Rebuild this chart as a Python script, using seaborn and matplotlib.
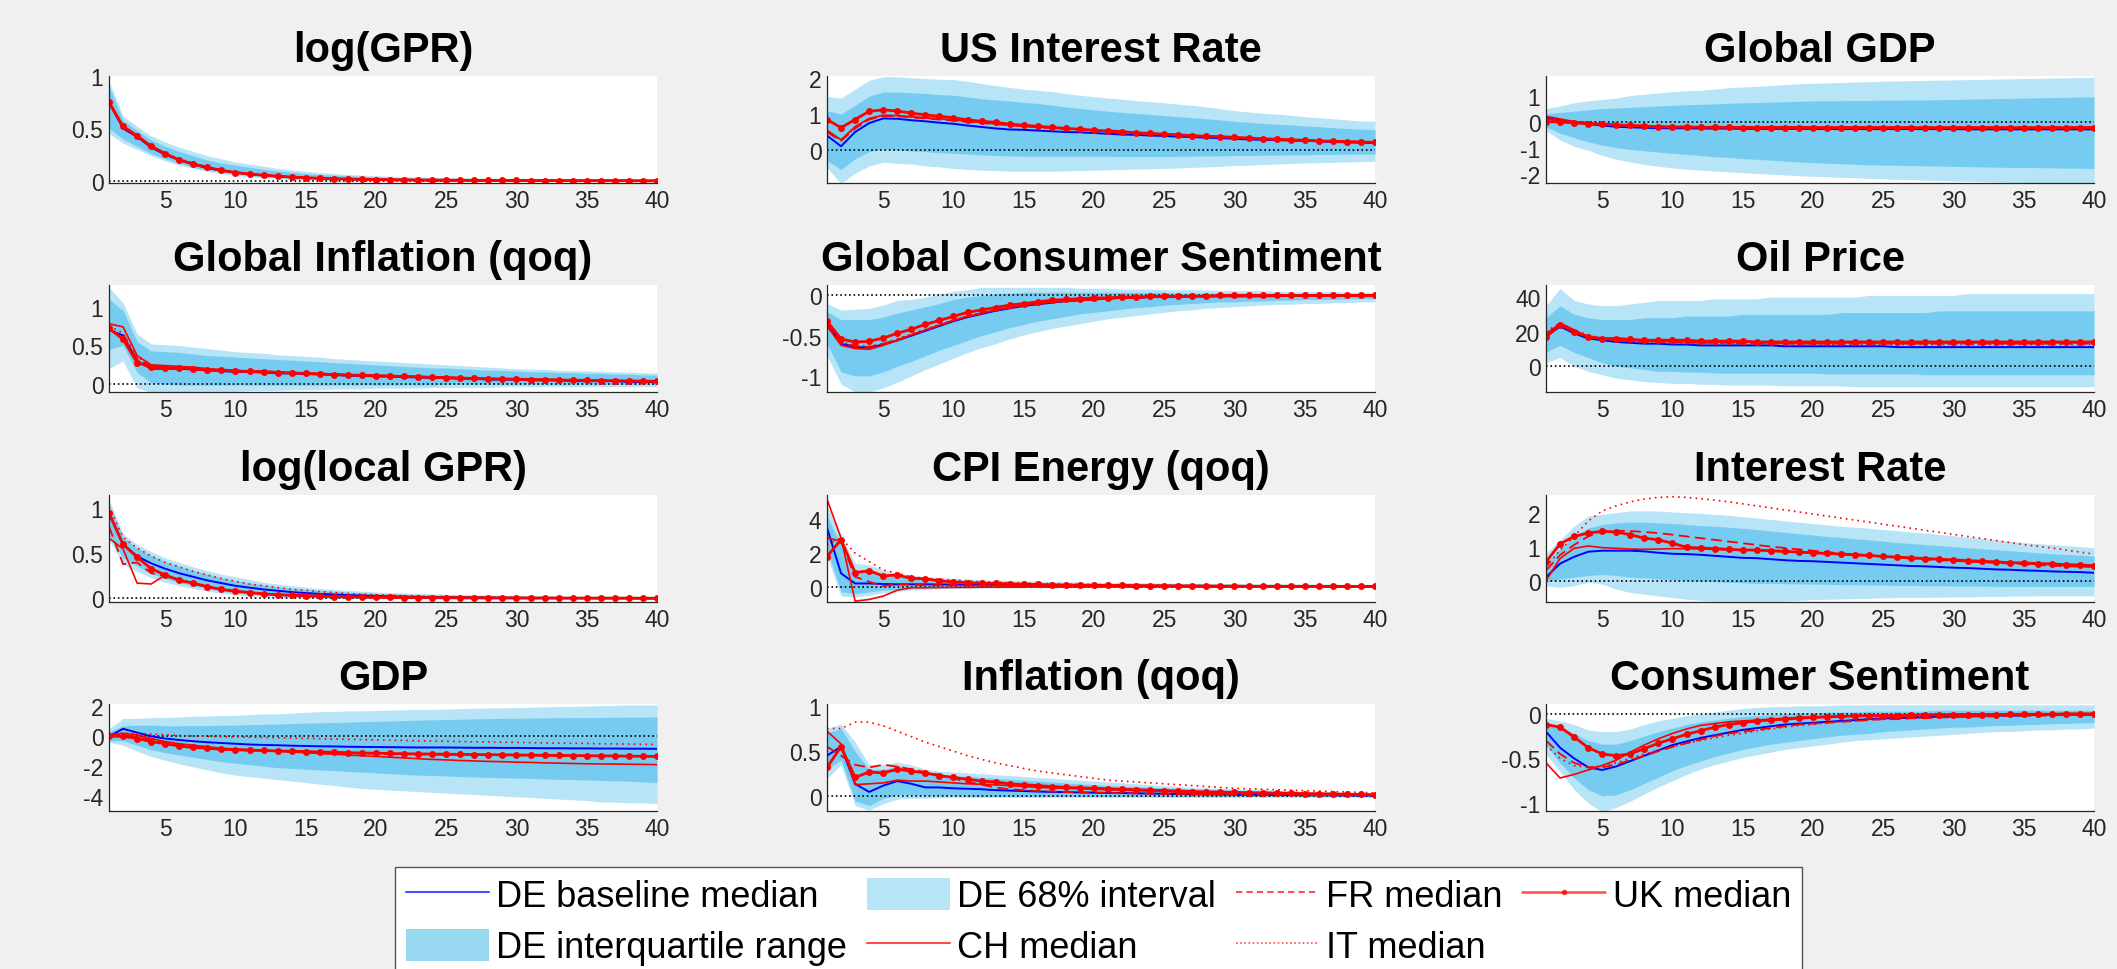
import matplotlib
matplotlib.use("Agg")
import matplotlib.pyplot as plt
import seaborn as sns
from matplotlib.lines import Line2D
from matplotlib.patches import Patch
from matplotlib.ticker import FuncFormatter

# horizon (quarters)
horizon = list(range(1, 41))

# ---- log(GPR)
gpr_lo68 = [0.45, 0.36, 0.30, 0.24, 0.19, 0.15, 0.12, 0.09, 0.07, 0.05,
            0.04, 0.03, 0.02, 0.015, 0.01, 0.006, 0.003, 0.001, 0.0, -0.001,
            -0.002, -0.002, -0.003, -0.003, -0.003, -0.003, -0.003, -0.003, -0.003, -0.003,
            -0.003, -0.003, -0.003, -0.003, -0.003, -0.003, -0.003, -0.003, -0.003, -0.003]
gpr_lo50 = [0.50, 0.40, 0.33, 0.26, 0.21, 0.17, 0.13, 0.105, 0.085, 0.065,
            0.05, 0.04, 0.03, 0.023, 0.017, 0.013, 0.009, 0.007, 0.005, 0.004,
            0.003, 0.002, 0.001, 0.001, 0.0, 0.0, 0.0, 0.0, 0.0, 0.0,
            0.0, 0.0, 0.0, 0.0, 0.0, 0.0, 0.0, 0.0, 0.0, 0.0]
gpr_hi50 = [0.90, 0.58, 0.48, 0.39, 0.33, 0.28, 0.24, 0.20, 0.17, 0.15,
            0.13, 0.11, 0.095, 0.082, 0.07, 0.062, 0.054, 0.048, 0.042, 0.038,
            0.034, 0.031, 0.028, 0.026, 0.024, 0.022, 0.021, 0.020, 0.019, 0.018,
            0.017, 0.016, 0.016, 0.015, 0.015, 0.014, 0.014, 0.014, 0.013, 0.013]
gpr_hi68 = [0.95, 0.62, 0.52, 0.43, 0.37, 0.32, 0.28, 0.24, 0.21, 0.18,
            0.16, 0.14, 0.12, 0.105, 0.09, 0.08, 0.07, 0.062, 0.055, 0.05,
            0.045, 0.04, 0.037, 0.034, 0.031, 0.029, 0.027, 0.025, 0.024, 0.023,
            0.022, 0.021, 0.02, 0.02, 0.019, 0.019, 0.018, 0.018, 0.018, 0.018]
gpr_de = [0.75, 0.50, 0.42, 0.32, 0.25, 0.20, 0.16, 0.12, 0.10, 0.08,
          0.064, 0.052, 0.043, 0.035, 0.029, 0.024, 0.02, 0.017, 0.014, 0.012,
          0.01, 0.009, 0.008, 0.007, 0.006, 0.005, 0.005, 0.004, 0.004, 0.003,
          0.003, 0.003, 0.002, 0.002, 0.002, 0.002, 0.002, 0.001, 0.001, 0.001]
gpr_ch = [0.74, 0.51, 0.42, 0.33, 0.26, 0.20, 0.16, 0.13, 0.10, 0.08,
          0.065, 0.053, 0.044, 0.036, 0.03, 0.025, 0.021, 0.017, 0.015, 0.012,
          0.011, 0.009, 0.008, 0.007, 0.006, 0.005, 0.005, 0.004, 0.004, 0.003,
          0.003, 0.003, 0.002, 0.002, 0.002, 0.002, 0.002, 0.001, 0.001, 0.001]
gpr_fr = [0.75, 0.51, 0.43, 0.33, 0.26, 0.20, 0.16, 0.13, 0.10, 0.08,
          0.065, 0.053, 0.044, 0.036, 0.03, 0.025, 0.021, 0.017, 0.015, 0.012,
          0.011, 0.009, 0.008, 0.007, 0.006, 0.005, 0.005, 0.004, 0.004, 0.003,
          0.003, 0.003, 0.002, 0.002, 0.002, 0.002, 0.002, 0.001, 0.001, 0.001]
gpr_it = [0.76, 0.52, 0.43, 0.33, 0.26, 0.21, 0.17, 0.13, 0.10, 0.08,
          0.066, 0.054, 0.045, 0.037, 0.03, 0.025, 0.021, 0.018, 0.015, 0.013,
          0.011, 0.01, 0.008, 0.007, 0.006, 0.006, 0.005, 0.004, 0.004, 0.003,
          0.003, 0.003, 0.003, 0.002, 0.002, 0.002, 0.002, 0.001, 0.001, 0.001]
gpr_uk = [0.75, 0.52, 0.43, 0.33, 0.26, 0.20, 0.16, 0.13, 0.10, 0.08,
          0.065, 0.055, 0.045, 0.037, 0.03, 0.025, 0.021, 0.018, 0.015, 0.013,
          0.011, 0.01, 0.009, 0.008, 0.007, 0.006, 0.005, 0.005, 0.004, 0.004,
          0.003, 0.003, 0.003, 0.002, 0.002, 0.002, 0.002, 0.002, 0.001, 0.001]

# ---- US Interest Rate
usir_lo68 = [-0.50, -0.95, -0.65, -0.45, -0.35, -0.38, -0.40, -0.45, -0.48, -0.52,
             -0.55, -0.57, -0.58, -0.60, -0.60, -0.60, -0.60, -0.59, -0.58, -0.57,
             -0.56, -0.55, -0.54, -0.53, -0.52, -0.51, -0.49, -0.48, -0.46, -0.44,
             -0.43, -0.41, -0.40, -0.38, -0.37, -0.36, -0.35, -0.34, -0.33, -0.32]
usir_lo50 = [-0.30, -0.55, -0.25, -0.05, 0.02, 0.00, -0.03, -0.05, -0.08, -0.10,
             -0.12, -0.14, -0.16, -0.17, -0.18, -0.18, -0.18, -0.18, -0.18, -0.18,
             -0.18, -0.19, -0.19, -0.19, -0.19, -0.18, -0.18, -0.17, -0.17, -0.16,
             -0.16, -0.15, -0.15, -0.14, -0.14, -0.13, -0.13, -0.12, -0.12, -0.12]
usir_hi50 = [1.10, 1.00, 1.25, 1.50, 1.62, 1.62, 1.60, 1.58, 1.55, 1.53,
             1.48, 1.43, 1.40, 1.37, 1.33, 1.30, 1.25, 1.20, 1.16, 1.12,
             1.08, 1.05, 1.02, 0.99, 0.96, 0.93, 0.90, 0.87, 0.84, 0.80,
             0.77, 0.74, 0.72, 0.70, 0.67, 0.65, 0.62, 0.60, 0.58, 0.56]
usir_hi68 = [1.50, 1.45, 1.70, 1.95, 2.05, 2.05, 2.02, 2.00, 1.98, 1.97,
             1.92, 1.86, 1.80, 1.75, 1.70, 1.67, 1.63, 1.58, 1.53, 1.49,
             1.45, 1.42, 1.38, 1.35, 1.32, 1.28, 1.25, 1.20, 1.15, 1.10,
             1.06, 1.03, 1.00, 0.97, 0.93, 0.90, 0.87, 0.84, 0.81, 0.80]
usir_de = [0.40, 0.10, 0.50, 0.75, 0.88, 0.87, 0.83, 0.80, 0.76, 0.73,
           0.68, 0.64, 0.60, 0.57, 0.56, 0.54, 0.52, 0.50, 0.49, 0.47,
           0.45, 0.43, 0.42, 0.40, 0.39, 0.37, 0.36, 0.34, 0.33, 0.31,
           0.29, 0.28, 0.27, 0.26, 0.25, 0.24, 0.22, 0.21, 0.20, 0.19]
usir_ch = [0.55, 0.28, 0.65, 0.88, 0.97, 0.96, 0.93, 0.90, 0.87, 0.84,
           0.80, 0.77, 0.73, 0.70, 0.67, 0.64, 0.62, 0.59, 0.57, 0.55,
           0.52, 0.50, 0.48, 0.46, 0.44, 0.42, 0.40, 0.38, 0.36, 0.35,
           0.33, 0.31, 0.30, 0.28, 0.27, 0.25, 0.24, 0.23, 0.22, 0.21]
usir_fr = [0.50, 0.25, 0.60, 0.85, 0.95, 0.94, 0.91, 0.88, 0.85, 0.82,
           0.78, 0.75, 0.72, 0.69, 0.66, 0.63, 0.61, 0.58, 0.56, 0.54,
           0.51, 0.49, 0.47, 0.45, 0.43, 0.41, 0.39, 0.37, 0.36, 0.34,
           0.32, 0.31, 0.29, 0.28, 0.27, 0.25, 0.24, 0.23, 0.22, 0.21]
usir_it = [0.52, 0.27, 0.62, 0.86, 0.96, 0.95, 0.92, 0.89, 0.86, 0.83,
           0.79, 0.76, 0.73, 0.70, 0.67, 0.64, 0.61, 0.59, 0.57, 0.54,
           0.52, 0.50, 0.48, 0.46, 0.44, 0.42, 0.40, 0.38, 0.36, 0.34,
           0.33, 0.31, 0.30, 0.28, 0.27, 0.26, 0.24, 0.23, 0.22, 0.21]
usir_uk = [0.85, 0.62, 0.85, 1.08, 1.12, 1.09, 1.03, 0.98, 0.94, 0.90,
           0.84, 0.80, 0.77, 0.72, 0.69, 0.66, 0.63, 0.60, 0.58, 0.55,
           0.53, 0.51, 0.48, 0.46, 0.44, 0.42, 0.40, 0.38, 0.37, 0.35,
           0.33, 0.31, 0.30, 0.28, 0.27, 0.25, 0.24, 0.23, 0.22, 0.21]

# ---- Global GDP
ggdp_lo68 = [-0.35, -0.70, -0.95, -1.10, -1.30, -1.45, -1.55, -1.65, -1.72, -1.78,
             -1.83, -1.87, -1.90, -1.93, -1.96, -1.99, -2.02, -2.05, -2.08, -2.10,
             -2.12, -2.14, -2.16, -2.18, -2.20, -2.22, -2.23, -2.25, -2.26, -2.28,
             -2.29, -2.30, -2.32, -2.33, -2.34, -2.35, -2.36, -2.37, -2.38, -2.40]
ggdp_lo50 = [-0.20, -0.45, -0.62, -0.78, -0.90, -1.00, -1.07, -1.12, -1.17, -1.22,
             -1.26, -1.30, -1.35, -1.38, -1.42, -1.45, -1.48, -1.52, -1.55, -1.58,
             -1.60, -1.62, -1.64, -1.66, -1.67, -1.68, -1.69, -1.70, -1.71, -1.72,
             -1.73, -1.74, -1.75, -1.76, -1.76, -1.77, -1.78, -1.79, -1.79, -1.80]
ggdp_hi50 = [0.30, 0.35, 0.40, 0.45, 0.50, 0.52, 0.55, 0.57, 0.60, 0.62,
             0.65, 0.66, 0.68, 0.70, 0.72, 0.73, 0.75, 0.76, 0.78, 0.79,
             0.80, 0.80, 0.81, 0.81, 0.82, 0.82, 0.83, 0.83, 0.84, 0.85,
             0.86, 0.87, 0.88, 0.89, 0.90, 0.91, 0.92, 0.93, 0.94, 0.95]
ggdp_hi68 = [0.50, 0.60, 0.72, 0.80, 0.85, 0.90, 1.00, 1.05, 1.10, 1.15,
             1.18, 1.20, 1.25, 1.30, 1.33, 1.35, 1.38, 1.42, 1.45, 1.47,
             1.48, 1.50, 1.52, 1.53, 1.55, 1.56, 1.57, 1.58, 1.59, 1.60,
             1.61, 1.62, 1.63, 1.64, 1.65, 1.66, 1.67, 1.68, 1.69, 1.70]
ggdp_de = [0.15, 0.05, -0.03, -0.10, -0.15, -0.20, -0.22, -0.24, -0.25, -0.26,
           -0.26, -0.27, -0.27, -0.27, -0.28, -0.28, -0.28, -0.28, -0.28, -0.28,
           -0.29, -0.29, -0.29, -0.29, -0.29, -0.29, -0.29, -0.29, -0.29, -0.29,
           -0.30, -0.30, -0.30, -0.30, -0.30, -0.30, -0.30, -0.30, -0.30, -0.30]
ggdp_ch = [0.20, 0.10, 0.00, -0.05, -0.10, -0.14, -0.16, -0.18, -0.20, -0.20,
           -0.21, -0.21, -0.21, -0.22, -0.22, -0.22, -0.22, -0.22, -0.22, -0.22,
           -0.22, -0.22, -0.22, -0.22, -0.23, -0.23, -0.23, -0.23, -0.23, -0.23,
           -0.23, -0.23, -0.23, -0.23, -0.23, -0.23, -0.23, -0.23, -0.23, -0.23]
ggdp_fr = [0.10, 0.05, 0.00, -0.05, -0.10, -0.13, -0.16, -0.18, -0.19, -0.20,
           -0.20, -0.21, -0.21, -0.21, -0.21, -0.21, -0.21, -0.22, -0.22, -0.22,
           -0.22, -0.22, -0.22, -0.22, -0.22, -0.22, -0.22, -0.22, -0.22, -0.22,
           -0.22, -0.22, -0.22, -0.22, -0.22, -0.22, -0.22, -0.22, -0.22, -0.22]
ggdp_it = [0.05, 0.02, -0.02, -0.06, -0.09, -0.12, -0.14, -0.16, -0.18, -0.19,
           -0.19, -0.20, -0.20, -0.20, -0.20, -0.20, -0.20, -0.20, -0.21, -0.21,
           -0.21, -0.21, -0.21, -0.21, -0.21, -0.21, -0.21, -0.21, -0.21, -0.21,
           -0.21, -0.21, -0.21, -0.21, -0.21, -0.21, -0.21, -0.21, -0.21, -0.21]
ggdp_uk = [0.00, -0.02, -0.05, -0.08, -0.10, -0.13, -0.15, -0.17, -0.20, -0.21,
           -0.21, -0.22, -0.22, -0.22, -0.23, -0.23, -0.23, -0.23, -0.23, -0.23,
           -0.24, -0.24, -0.24, -0.24, -0.24, -0.24, -0.24, -0.24, -0.24, -0.24,
           -0.24, -0.24, -0.24, -0.24, -0.24, -0.24, -0.24, -0.24, -0.24, -0.24]

# ---- Global Inflation (qoq)
ginf_lo68 = [0.20, 0.30, -0.05, -0.10, -0.10, -0.10, -0.09, -0.09, -0.09, -0.09,
             -0.08, -0.08, -0.08, -0.07, -0.07, -0.07, -0.06, -0.06, -0.06, -0.05,
             -0.05, -0.05, -0.05, -0.04, -0.04, -0.04, -0.04, -0.04, -0.03, -0.03,
             -0.03, -0.03, -0.03, -0.03, -0.03, -0.03, -0.03, -0.03, -0.03, -0.03]
ginf_lo50 = [0.45, 0.50, 0.15, 0.02, 0.00, -0.01, -0.01, -0.01, -0.01, -0.01,
             -0.01, -0.01, -0.01, -0.01, -0.01, -0.01, -0.01, -0.01, -0.01, -0.01,
             -0.01, -0.01, -0.01, -0.01, 0.00, 0.00, 0.00, 0.00, 0.00, 0.00,
             0.00, 0.00, 0.00, 0.00, 0.00, 0.00, 0.00, 0.00, 0.00, 0.00]
ginf_hi50 = [1.10, 0.95, 0.55, 0.43, 0.42, 0.41, 0.39, 0.37, 0.36, 0.35,
             0.34, 0.33, 0.32, 0.31, 0.30, 0.29, 0.28, 0.27, 0.26, 0.25,
             0.24, 0.23, 0.22, 0.21, 0.21, 0.20, 0.19, 0.18, 0.18, 0.17,
             0.16, 0.16, 0.15, 0.15, 0.14, 0.14, 0.13, 0.13, 0.12, 0.12]
ginf_hi68 = [1.25, 1.05, 0.65, 0.52, 0.51, 0.50, 0.48, 0.46, 0.44, 0.42,
             0.41, 0.40, 0.38, 0.37, 0.36, 0.35, 0.33, 0.32, 0.31, 0.30,
             0.29, 0.28, 0.27, 0.26, 0.25, 0.24, 0.23, 0.22, 0.21, 0.20,
             0.195, 0.19, 0.18, 0.175, 0.17, 0.165, 0.16, 0.155, 0.15, 0.145]
ginf_de = [0.70, 0.63, 0.30, 0.20, 0.20, 0.20, 0.19, 0.18, 0.17, 0.16,
           0.16, 0.15, 0.14, 0.14, 0.13, 0.13, 0.12, 0.11, 0.11, 0.10,
           0.10, 0.09, 0.09, 0.08, 0.08, 0.07, 0.07, 0.06, 0.06, 0.06,
           0.05, 0.05, 0.05, 0.04, 0.04, 0.04, 0.04, 0.03, 0.03, 0.03]
ginf_ch = [0.78, 0.74, 0.37, 0.25, 0.24, 0.23, 0.22, 0.20, 0.19, 0.18,
           0.17, 0.17, 0.16, 0.15, 0.14, 0.14, 0.13, 0.12, 0.12, 0.11,
           0.11, 0.10, 0.10, 0.09, 0.09, 0.08, 0.08, 0.07, 0.07, 0.06,
           0.06, 0.06, 0.05, 0.05, 0.05, 0.04, 0.04, 0.04, 0.04, 0.03]
ginf_fr = [0.70, 0.62, 0.33, 0.23, 0.22, 0.22, 0.21, 0.19, 0.18, 0.17,
           0.17, 0.16, 0.15, 0.15, 0.14, 0.13, 0.13, 0.12, 0.12, 0.11,
           0.11, 0.10, 0.10, 0.09, 0.09, 0.08, 0.08, 0.07, 0.07, 0.07,
           0.06, 0.06, 0.06, 0.05, 0.05, 0.05, 0.05, 0.04, 0.04, 0.04]
ginf_it = [0.75, 0.66, 0.35, 0.24, 0.23, 0.22, 0.21, 0.20, 0.18, 0.17,
           0.17, 0.16, 0.16, 0.15, 0.14, 0.14, 0.13, 0.12, 0.12, 0.11,
           0.11, 0.10, 0.10, 0.09, 0.09, 0.08, 0.08, 0.08, 0.07, 0.07,
           0.06, 0.06, 0.06, 0.05, 0.05, 0.05, 0.05, 0.04, 0.04, 0.04]
ginf_uk = [0.72, 0.58, 0.28, 0.22, 0.21, 0.21, 0.20, 0.18, 0.18, 0.17,
           0.165, 0.16, 0.15, 0.145, 0.14, 0.13, 0.125, 0.12, 0.115, 0.11,
           0.105, 0.10, 0.095, 0.09, 0.085, 0.08, 0.075, 0.07, 0.068, 0.065,
           0.06, 0.058, 0.055, 0.052, 0.05, 0.048, 0.045, 0.043, 0.04, 0.038]

# ---- Global Consumer Sentiment
gcs_lo68 = [-0.75, -1.10, -1.20, -1.20, -1.15, -1.08, -1.00, -0.92, -0.85, -0.78,
            -0.71, -0.65, -0.60, -0.54, -0.49, -0.45, -0.41, -0.38, -0.35, -0.32,
            -0.29, -0.27, -0.25, -0.23, -0.21, -0.19, -0.18, -0.16, -0.15, -0.14,
            -0.13, -0.12, -0.11, -0.11, -0.10, -0.10, -0.09, -0.09, -0.08, -0.08]
gcs_lo50 = [-0.60, -0.95, -1.00, -1.00, -0.95, -0.88, -0.82, -0.75, -0.68, -0.62,
            -0.56, -0.50, -0.45, -0.40, -0.36, -0.32, -0.29, -0.26, -0.23, -0.21,
            -0.19, -0.17, -0.15, -0.14, -0.12, -0.11, -0.10, -0.09, -0.08, -0.08,
            -0.07, -0.07, -0.06, -0.06, -0.05, -0.05, -0.05, -0.04, -0.04, -0.04]
gcs_hi50 = [-0.20, -0.30, -0.30, -0.30, -0.27, -0.22, -0.18, -0.14, -0.10, -0.05,
            -0.02, 0.00, 0.02, 0.03, 0.04, 0.04, 0.04, 0.04, 0.04, 0.04,
            0.04, 0.04, 0.04, 0.04, 0.04, 0.03, 0.03, 0.03, 0.03, 0.03,
            0.03, 0.03, 0.03, 0.02, 0.02, 0.02, 0.02, 0.02, 0.02, 0.02]
gcs_hi68 = [-0.10, -0.18, -0.17, -0.16, -0.12, -0.06, -0.05, -0.02, 0.02, 0.05,
            0.07, 0.10, 0.10, 0.10, 0.10, 0.10, 0.10, 0.10, 0.09, 0.09,
            0.09, 0.08, 0.08, 0.08, 0.07, 0.07, 0.07, 0.07, 0.06, 0.06,
            0.06, 0.06, 0.05, 0.05, 0.05, 0.05, 0.05, 0.04, 0.04, 0.04]
gcs_de = [-0.35, -0.60, -0.64, -0.65, -0.61, -0.56, -0.50, -0.44, -0.38, -0.32,
          -0.27, -0.23, -0.19, -0.16, -0.13, -0.11, -0.09, -0.07, -0.06, -0.05,
          -0.04, -0.03, -0.03, -0.02, -0.02, -0.02, -0.01, -0.01, -0.01, -0.01,
          -0.01, -0.01, -0.01, 0.00, 0.00, 0.00, 0.00, 0.00, 0.00, 0.00]
gcs_ch = [-0.38, -0.62, -0.66, -0.67, -0.62, -0.56, -0.49, -0.43, -0.37, -0.31,
          -0.26, -0.22, -0.18, -0.15, -0.12, -0.10, -0.08, -0.07, -0.06, -0.05,
          -0.04, -0.03, -0.03, -0.02, -0.02, -0.02, -0.01, -0.01, -0.01, -0.01,
          -0.01, -0.01, 0.00, 0.00, 0.00, 0.00, 0.00, 0.00, 0.00, 0.00]
gcs_fr = [-0.34, -0.59, -0.63, -0.64, -0.60, -0.55, -0.49, -0.43, -0.37, -0.31,
          -0.26, -0.22, -0.18, -0.15, -0.12, -0.10, -0.08, -0.07, -0.06, -0.05,
          -0.04, -0.03, -0.03, -0.02, -0.02, -0.02, -0.01, -0.01, -0.01, -0.01,
          -0.01, -0.01, 0.00, 0.00, 0.00, 0.00, 0.00, 0.00, 0.00, 0.00]
gcs_it = [-0.33, -0.58, -0.62, -0.63, -0.60, -0.54, -0.48, -0.42, -0.36, -0.31,
          -0.26, -0.22, -0.18, -0.15, -0.12, -0.10, -0.08, -0.07, -0.06, -0.05,
          -0.04, -0.03, -0.03, -0.02, -0.02, -0.02, -0.01, -0.01, -0.01, -0.01,
          -0.01, -0.01, 0.00, 0.00, 0.00, 0.00, 0.00, 0.00, 0.00, 0.00]
gcs_uk = [-0.32, -0.54, -0.58, -0.57, -0.53, -0.47, -0.42, -0.36, -0.31, -0.26,
          -0.21, -0.18, -0.15, -0.12, -0.10, -0.08, -0.06, -0.05, -0.04, -0.03,
          -0.03, -0.02, -0.02, -0.01, -0.01, -0.01, -0.01, -0.01, 0.00, 0.00,
          0.00, 0.00, 0.00, 0.00, 0.00, 0.00, 0.00, 0.00, 0.00, 0.00]

# ---- Oil Price
oil_lo68 = [2, 5, 0, -3, -5, -7, -8, -9, -9.5, -10,
            -10, -10.5, -10.5, -11, -11, -11, -11, -11.5, -11.5, -11.5,
            -11.5, -11.5, -12, -12, -12, -12, -12, -12, -12, -12,
            -12, -12, -12, -12, -12, -12, -12, -12, -12, -12]
oil_lo50 = [8, 12, 8, 5, 2, 0, -1, -2, -3, -3,
            -3.5, -3.5, -4, -4, -4, -4, -4, -4, -4, -4,
            -4.5, -4.5, -4.5, -4.5, -4.5, -4.5, -4.5, -5, -5, -5,
            -5, -5, -5, -5, -5, -5, -5, -5, -5, -5]
oil_hi50 = [28, 35, 30, 28, 27, 27, 27, 28, 28, 28,
            29, 29, 29, 29, 30, 30, 30, 30, 30, 30,
            30, 31, 31, 31, 31, 31, 31, 31, 32, 32,
            32, 32, 32, 32, 32, 32, 32, 32, 32, 32]
oil_hi68 = [35, 45, 38, 36, 35, 35, 36, 37, 38, 38,
            38, 38, 39, 39, 39, 39, 40, 40, 40, 40,
            40, 40, 40, 41, 41, 41, 41, 41, 41, 41,
            42, 42, 42, 42, 42, 42, 42, 42, 42, 42]
oil_de = [17, 23, 19, 16, 15, 14, 13.5, 13, 13, 12.5,
          12.5, 12, 12, 12, 12, 12, 12, 11.5, 11.5, 11.5,
          11.5, 11.5, 11.5, 11.5, 11.5, 11, 11, 11, 11, 11,
          11, 11, 11, 11, 11, 11, 11, 11, 11, 11]
oil_ch = [18, 25, 21, 17, 16, 15, 15, 14.5, 14.5, 14,
          14, 14, 14, 14, 14, 13.5, 13.5, 13.5, 13.5, 13.5,
          13.5, 13.5, 13.5, 13.5, 13.5, 13.5, 13.5, 13.5, 13.5, 13.5,
          13.5, 13.5, 13.5, 13.5, 13.5, 13.5, 13.5, 13.5, 13.5, 13.5]
oil_fr = [19, 24, 20, 17, 16, 15, 14.5, 14, 14, 14,
          13.5, 13.5, 13.5, 13.5, 13, 13, 13, 13, 13, 13,
          13, 13, 13, 13, 13, 13, 13, 13, 13, 13,
          13, 13, 13, 13, 13, 13, 13, 13, 13, 13]
oil_it = [20, 25, 21, 18, 16, 15, 14.5, 14, 14, 13.5,
          13.5, 13.5, 13, 13, 13, 13, 13, 13, 13, 13,
          12.5, 12.5, 12.5, 12.5, 12.5, 12.5, 12.5, 12.5, 12.5, 12.5,
          12.5, 12.5, 12.5, 12.5, 12.5, 12.5, 12.5, 12.5, 12.5, 12.5]
oil_uk = [17, 24, 20, 17, 16, 16, 15.5, 15, 15, 15,
          15, 14.5, 14.5, 14.5, 14.5, 14, 14, 14, 14, 14,
          14, 14, 14, 14, 14, 14, 14, 14, 14, 14,
          14, 14, 14, 14, 14, 14, 14, 14, 14, 14]

# ---- log(local GPR)
lgpr_lo68 = [0.65, 0.38, 0.30, 0.23, 0.18, 0.14, 0.11, 0.08, 0.06, 0.04,
             0.03, 0.02, 0.012, 0.008, 0.005, 0.003, 0.001, 0.0, -0.001, -0.002,
             -0.002, -0.003, -0.003, -0.003, -0.003, -0.003, -0.003, -0.003, -0.003, -0.003,
             -0.003, -0.003, -0.003, -0.003, -0.003, -0.003, -0.003, -0.003, -0.003, -0.003]
lgpr_lo50 = [0.70, 0.45, 0.36, 0.28, 0.22, 0.18, 0.14, 0.11, 0.08, 0.06,
             0.045, 0.035, 0.025, 0.018, 0.013, 0.01, 0.007, 0.005, 0.004, 0.003,
             0.002, 0.002, 0.001, 0.001, 0.001, 0.0, 0.0, 0.0, 0.0, 0.0,
             0.0, 0.0, 0.0, 0.0, 0.0, 0.0, 0.0, 0.0, 0.0, 0.0]
lgpr_hi50 = [1.05, 0.68, 0.56, 0.48, 0.41, 0.36, 0.31, 0.27, 0.23, 0.20,
             0.17, 0.15, 0.13, 0.115, 0.10, 0.09, 0.08, 0.07, 0.062, 0.055,
             0.05, 0.045, 0.041, 0.038, 0.035, 0.033, 0.031, 0.029, 0.027, 0.026,
             0.025, 0.024, 0.023, 0.022, 0.021, 0.02, 0.02, 0.019, 0.019, 0.018]
lgpr_hi68 = [1.10, 0.72, 0.60, 0.52, 0.45, 0.40, 0.35, 0.31, 0.27, 0.24,
             0.21, 0.18, 0.16, 0.14, 0.125, 0.11, 0.10, 0.09, 0.08, 0.072,
             0.065, 0.06, 0.055, 0.05, 0.047, 0.044, 0.041, 0.039, 0.037, 0.035,
             0.034, 0.033, 0.032, 0.031, 0.03, 0.03, 0.029, 0.029, 0.028, 0.028]
lgpr_de = [0.95, 0.60, 0.47, 0.39, 0.33, 0.28, 0.24, 0.20, 0.17, 0.14,
           0.12, 0.10, 0.085, 0.07, 0.06, 0.05, 0.043, 0.037, 0.032, 0.027,
           0.023, 0.02, 0.017, 0.015, 0.013, 0.011, 0.01, 0.009, 0.008, 0.007,
           0.006, 0.005, 0.005, 0.004, 0.004, 0.003, 0.003, 0.003, 0.002, 0.002]
lgpr_ch = [0.67, 0.55, 0.17, 0.16, 0.26, 0.21, 0.17, 0.13, 0.10, 0.08,
           0.065, 0.053, 0.044, 0.036, 0.03, 0.025, 0.021, 0.017, 0.015, 0.012,
           0.011, 0.009, 0.008, 0.007, 0.006, 0.005, 0.005, 0.004, 0.004, 0.003,
           0.003, 0.003, 0.002, 0.002, 0.002, 0.002, 0.002, 0.001, 0.001, 0.001]
lgpr_fr = [0.80, 0.38, 0.40, 0.28, 0.25, 0.20, 0.16, 0.13, 0.10, 0.08,
           0.065, 0.053, 0.044, 0.036, 0.03, 0.025, 0.021, 0.017, 0.015, 0.012,
           0.011, 0.009, 0.008, 0.007, 0.006, 0.005, 0.005, 0.004, 0.004, 0.003,
           0.003, 0.003, 0.002, 0.002, 0.002, 0.002, 0.002, 0.001, 0.001, 0.001]
lgpr_it = [1.02, 0.68, 0.56, 0.47, 0.40, 0.35, 0.30, 0.26, 0.22, 0.19,
           0.16, 0.14, 0.12, 0.10, 0.09, 0.075, 0.065, 0.055, 0.047, 0.04,
           0.035, 0.03, 0.026, 0.022, 0.019, 0.017, 0.015, 0.013, 0.011, 0.01,
           0.009, 0.008, 0.007, 0.006, 0.005, 0.005, 0.004, 0.004, 0.003, 0.003]
lgpr_uk = [0.95, 0.60, 0.46, 0.33, 0.26, 0.20, 0.17, 0.13, 0.10, 0.08,
           0.065, 0.05, 0.04, 0.035, 0.03, 0.025, 0.021, 0.018, 0.015, 0.013,
           0.011, 0.01, 0.009, 0.008, 0.007, 0.006, 0.005, 0.005, 0.004, 0.004,
           0.003, 0.003, 0.003, 0.002, 0.002, 0.002, 0.002, 0.002, 0.001, 0.001]

# ---- CPI Energy (qoq)
cpie_lo68 = [1.8, -0.55, -0.60, -0.50, -0.35, -0.25, -0.20, -0.15, -0.12, -0.10,
             -0.09, -0.08, -0.07, -0.06, -0.06, -0.05, -0.05, -0.05, -0.04, -0.04,
             -0.04, -0.04, -0.04, -0.03, -0.03, -0.03, -0.03, -0.03, -0.03, -0.03,
             -0.03, -0.03, -0.03, -0.03, -0.03, -0.03, -0.03, -0.03, -0.03, -0.03]
cpie_lo50 = [2.2, -0.30, -0.40, -0.30, -0.20, -0.15, -0.10, -0.08, -0.06, -0.05,
             -0.05, -0.04, -0.04, -0.03, -0.03, -0.03, -0.03, -0.02, -0.02, -0.02,
             -0.02, -0.02, -0.02, -0.02, -0.02, -0.02, -0.02, -0.02, -0.02, -0.02,
             -0.02, -0.02, -0.02, -0.02, -0.02, -0.02, -0.02, -0.02, -0.02, -0.02]
cpie_hi50 = [4.2, 2.5, 1.0, 0.9, 0.7, 0.6, 0.5, 0.45, 0.40, 0.35,
             0.32, 0.30, 0.28, 0.26, 0.24, 0.22, 0.20, 0.19, 0.18, 0.17,
             0.16, 0.15, 0.14, 0.14, 0.13, 0.13, 0.12, 0.12, 0.11, 0.11,
             0.10, 0.10, 0.10, 0.09, 0.09, 0.09, 0.09, 0.08, 0.08, 0.08]
cpie_hi68 = [4.8, 3.0, 1.4, 1.3, 1.0, 0.8, 0.7, 0.6, 0.55, 0.50,
             0.46, 0.43, 0.40, 0.38, 0.36, 0.34, 0.32, 0.30, 0.29, 0.28,
             0.27, 0.26, 0.25, 0.24, 0.23, 0.22, 0.21, 0.21, 0.20, 0.20,
             0.19, 0.19, 0.18, 0.18, 0.17, 0.17, 0.16, 0.16, 0.15, 0.15]
cpie_de = [3.5, 0.8, 0.2, 0.2, 0.17, 0.15, 0.15, 0.15, 0.14, 0.14,
           0.13, 0.13, 0.12, 0.12, 0.11, 0.11, 0.10, 0.10, 0.09, 0.09,
           0.08, 0.08, 0.07, 0.07, 0.07, 0.06, 0.06, 0.06, 0.05, 0.05,
           0.05, 0.05, 0.04, 0.04, 0.04, 0.04, 0.04, 0.03, 0.03, 0.03]
cpie_ch = [5.2, 2.9, -0.85, -0.75, -0.55, -0.20, -0.05, -0.05, -0.04, -0.03,
           -0.03, -0.02, -0.02, -0.02, -0.01, -0.01, -0.01, -0.01, -0.01, 0.0,
           0.0, 0.0, 0.0, 0.0, 0.0, 0.0, 0.0, 0.0, 0.0, 0.0,
           0.0, 0.0, 0.0, 0.0, 0.0, 0.0, 0.0, 0.0, 0.0, 0.0]
cpie_fr = [2.9, 2.7, 0.6, 0.3, 0.05, 0.15, 0.12, 0.10, 0.10, 0.09,
           0.09, 0.08, 0.08, 0.07, 0.07, 0.06, 0.06, 0.06, 0.05, 0.05,
           0.05, 0.04, 0.04, 0.04, 0.04, 0.03, 0.03, 0.03, 0.03, 0.03,
           0.02, 0.02, 0.02, 0.02, 0.02, 0.02, 0.02, 0.02, 0.02, 0.02]
cpie_it = [2.5, 2.9, 2.0, 1.5, 1.0, 0.8, 0.6, 0.5, 0.45, 0.40,
           0.35, 0.30, 0.27, 0.24, 0.22, 0.20, 0.18, 0.16, 0.15, 0.14,
           0.13, 0.12, 0.11, 0.10, 0.09, 0.09, 0.08, 0.07, 0.07, 0.06,
           0.06, 0.05, 0.05, 0.05, 0.04, 0.04, 0.04, 0.03, 0.03, 0.03]
cpie_uk = [1.8, 2.8, 0.85, 0.95, 0.65, 0.7, 0.5, 0.48, 0.35, 0.30,
           0.25, 0.22, 0.20, 0.18, 0.16, 0.14, 0.12, 0.11, 0.10, 0.09,
           0.08, 0.08, 0.07, 0.06, 0.06, 0.05, 0.05, 0.04, 0.04, 0.04,
           0.03, 0.03, 0.03, 0.03, 0.02, 0.02, 0.02, 0.02, 0.02, 0.02]

# ---- Interest Rate
ir_lo68 = [-0.15, -0.20, -0.15, -0.05, -0.10, -0.25, -0.35, -0.40, -0.45, -0.50,
           -0.55, -0.58, -0.60, -0.60, -0.60, -0.60, -0.60, -0.60, -0.58, -0.56,
           -0.55, -0.54, -0.53, -0.52, -0.51, -0.50, -0.50, -0.49, -0.49, -0.48,
           -0.48, -0.47, -0.47, -0.46, -0.46, -0.45, -0.45, -0.45, -0.45, -0.45]
ir_lo50 = [-0.05, 0.05, 0.10, 0.15, 0.18, 0.15, 0.10, 0.08, 0.05, 0.03,
           0.00, -0.02, -0.03, -0.05, -0.06, -0.08, -0.08, -0.09, -0.10, -0.10,
           -0.11, -0.12, -0.12, -0.13, -0.13, -0.14, -0.14, -0.15, -0.15, -0.16,
           -0.16, -0.16, -0.17, -0.17, -0.17, -0.17, -0.17, -0.17, -0.17, -0.17]
ir_hi50 = [0.50, 0.95, 1.30, 1.55, 1.65, 1.70, 1.72, 1.72, 1.70, 1.68,
           1.65, 1.62, 1.60, 1.57, 1.54, 1.50, 1.46, 1.42, 1.38, 1.34,
           1.30, 1.27, 1.23, 1.20, 1.16, 1.12, 1.09, 1.06, 1.03, 1.00,
           0.97, 0.94, 0.91, 0.88, 0.85, 0.82, 0.79, 0.77, 0.75, 0.72]
ir_hi68 = [0.80, 1.20, 1.60, 1.90, 1.95, 2.00, 2.05, 2.05, 2.05, 2.02,
           2.00, 1.98, 1.95, 1.92, 1.88, 1.84, 1.80, 1.76, 1.72, 1.68,
           1.64, 1.60, 1.57, 1.54, 1.50, 1.47, 1.43, 1.40, 1.36, 1.32,
           1.28, 1.24, 1.20, 1.16, 1.12, 1.09, 1.06, 1.03, 1.00, 0.97]
ir_de = [0.10, 0.50, 0.70, 0.85, 0.88, 0.88, 0.88, 0.86, 0.82, 0.79,
         0.78, 0.76, 0.73, 0.70, 0.67, 0.66, 0.63, 0.60, 0.58, 0.57,
         0.55, 0.53, 0.51, 0.49, 0.47, 0.45, 0.43, 0.42, 0.40, 0.38,
         0.37, 0.35, 0.33, 0.32, 0.30, 0.29, 0.27, 0.26, 0.25, 0.23]
ir_ch = [0.00, 0.65, 0.95, 1.02, 0.97, 0.95, 0.93, 0.92, 0.93, 0.94,
         0.94, 0.93, 0.92, 0.91, 0.90, 0.89, 0.87, 0.85, 0.83, 0.81,
         0.79, 0.77, 0.75, 0.73, 0.71, 0.68, 0.66, 0.64, 0.62, 0.60,
         0.58, 0.56, 0.54, 0.52, 0.50, 0.49, 0.47, 0.46, 0.45, 0.43]
ir_fr = [0.30, 0.75, 1.05, 1.30, 1.45, 1.47, 1.46, 1.43, 1.40, 1.35,
         1.30, 1.25, 1.20, 1.15, 1.10, 1.05, 1.00, 0.96, 0.92, 0.88,
         0.84, 0.80, 0.77, 0.74, 0.71, 0.68, 0.65, 0.62, 0.60, 0.58,
         0.56, 0.54, 0.52, 0.50, 0.48, 0.46, 0.44, 0.42, 0.41, 0.40]
ir_it = [0.40, 0.90, 1.30, 1.75, 2.05, 2.20, 2.32, 2.40, 2.45, 2.47,
         2.45, 2.41, 2.37, 2.32, 2.26, 2.20, 2.14, 2.08, 2.02, 1.96,
         1.90, 1.84, 1.78, 1.72, 1.66, 1.60, 1.54, 1.48, 1.42, 1.36,
         1.30, 1.24, 1.18, 1.12, 1.06, 1.01, 0.96, 0.90, 0.84, 0.78]
ir_uk = [0.55, 1.08, 1.30, 1.40, 1.45, 1.43, 1.35, 1.25, 1.20, 1.10,
         0.98, 0.96, 0.94, 0.92, 0.90, 0.90, 0.88, 0.86, 0.84, 0.82,
         0.80, 0.78, 0.76, 0.74, 0.71, 0.69, 0.67, 0.65, 0.63, 0.61,
         0.59, 0.57, 0.55, 0.53, 0.52, 0.50, 0.49, 0.47, 0.46, 0.44]

# ---- GDP
gdp_lo68 = [-0.4, -0.6, -1.0, -1.35, -1.6, -1.85, -2.05, -2.25, -2.45, -2.6,
            -2.7, -2.8, -2.9, -3.0, -3.1, -3.2, -3.3, -3.4, -3.5, -3.55,
            -3.6, -3.65, -3.7, -3.75, -3.8, -3.85, -3.9, -3.95, -4.0, -4.05,
            -4.1, -4.15, -4.2, -4.25, -4.3, -4.4, -4.4, -4.45, -4.45, -4.5]
gdp_lo50 = [-0.3, -0.3, -0.6, -0.9, -1.1, -1.25, -1.4, -1.55, -1.7, -1.8,
            -1.9, -2.0, -2.1, -2.15, -2.2, -2.25, -2.3, -2.35, -2.4, -2.45,
            -2.5, -2.55, -2.6, -2.62, -2.65, -2.7, -2.72, -2.75, -2.78, -2.8,
            -2.82, -2.85, -2.88, -2.9, -2.92, -2.95, -2.98, -3.0, -3.05, -3.1]
gdp_hi50 = [0.3, 0.7, 0.75, 0.75, 0.7, 0.7, 0.72, 0.72, 0.74, 0.75,
            0.78, 0.8, 0.82, 0.85, 0.88, 0.9, 0.92, 0.95, 0.98, 1.0,
            1.02, 1.05, 1.08, 1.1, 1.12, 1.14, 1.16, 1.18, 1.2, 1.2,
            1.22, 1.23, 1.24, 1.25, 1.25, 1.26, 1.27, 1.28, 1.28, 1.3]
gdp_hi68 = [0.5, 1.2, 1.2, 1.25, 1.25, 1.3, 1.35, 1.35, 1.4, 1.4,
            1.45, 1.5, 1.5, 1.55, 1.6, 1.65, 1.65, 1.7, 1.7, 1.72,
            1.75, 1.77, 1.8, 1.8, 1.82, 1.85, 1.87, 1.9, 1.9, 1.92,
            1.95, 1.97, 2.0, 2.0, 2.02, 2.05, 2.07, 2.1, 2.1, 2.1]
gdp_de = [0.0, 0.5, 0.25, 0.0, -0.15, -0.25, -0.33, -0.4, -0.45, -0.5,
          -0.55, -0.58, -0.6, -0.63, -0.65, -0.67, -0.68, -0.7, -0.71, -0.72,
          -0.73, -0.74, -0.75, -0.75, -0.75, -0.76, -0.77, -0.77, -0.78, -0.78,
          -0.79, -0.8, -0.8, -0.81, -0.81, -0.82, -0.82, -0.83, -0.83, -0.84]
gdp_ch = [0.1, 0.2, 0.1, -0.15, -0.35, -0.5, -0.6, -0.7, -0.8, -0.85,
          -0.9, -0.95, -1.0, -1.05, -1.1, -1.15, -1.2, -1.25, -1.3, -1.35,
          -1.4, -1.45, -1.5, -1.55, -1.58, -1.62, -1.65, -1.68, -1.7, -1.73,
          -1.75, -1.78, -1.8, -1.82, -1.84, -1.85, -1.86, -1.87, -1.88, -1.9]
gdp_fr = [0.05, 0.1, -0.05, -0.25, -0.45, -0.6, -0.7, -0.78, -0.85, -0.9,
          -0.95, -0.98, -1.0, -1.03, -1.06, -1.08, -1.1, -1.12, -1.14, -1.16,
          -1.18, -1.2, -1.21, -1.22, -1.23, -1.24, -1.25, -1.26, -1.27, -1.28,
          -1.28, -1.29, -1.3, -1.3, -1.31, -1.31, -1.32, -1.32, -1.33, -1.33]
gdp_it = [0.1, 0.2, 0.2, 0.15, 0.1, 0.05, 0.02, 0.0, -0.02, -0.04,
          -0.06, -0.08, -0.1, -0.12, -0.14, -0.16, -0.18, -0.2, -0.22, -0.24,
          -0.26, -0.28, -0.3, -0.32, -0.33, -0.35, -0.37, -0.38, -0.4, -0.41,
          -0.43, -0.44, -0.46, -0.47, -0.48, -0.5, -0.51, -0.52, -0.54, -0.55]
gdp_uk = [0.0, 0.0, -0.15, -0.35, -0.5, -0.65, -0.75, -0.8, -0.87, -0.9,
          -0.93, -0.95, -0.98, -1.0, -1.02, -1.05, -1.07, -1.1, -1.12, -1.13,
          -1.15, -1.17, -1.18, -1.19, -1.2, -1.21, -1.22, -1.23, -1.24, -1.25,
          -1.26, -1.27, -1.28, -1.29, -1.3, -1.31, -1.32, -1.33, -1.34, -1.35]

# ---- Inflation (qoq)
inf_lo68 = [0.20, 0.35, -0.10, -0.15, -0.08, -0.03, -0.02, -0.02, -0.015, -0.01,
            -0.01, -0.01, -0.01, -0.01, -0.01, -0.01, -0.01, -0.01, -0.01, -0.01,
            -0.01, -0.01, -0.01, -0.01, -0.01, -0.01, -0.01, -0.01, -0.01, -0.01,
            -0.01, -0.01, -0.01, -0.01, -0.01, -0.01, -0.01, -0.01, -0.01, -0.01]
inf_lo50 = [0.30, 0.40, -0.05, -0.10, -0.02, 0.02, 0.02, 0.01, 0.01, 0.01,
            0.00, 0.00, 0.00, 0.00, 0.00, 0.00, 0.00, 0.00, 0.00, 0.00,
            0.00, 0.00, 0.00, 0.00, 0.00, 0.00, 0.00, 0.00, 0.00, 0.00,
            0.00, 0.00, 0.00, 0.00, 0.00, 0.00, 0.00, 0.00, 0.00, 0.00]
inf_hi50 = [0.70, 0.75, 0.50, 0.30, 0.30, 0.33, 0.30, 0.26, 0.24, 0.23,
            0.22, 0.21, 0.20, 0.19, 0.18, 0.17, 0.16, 0.15, 0.14, 0.13,
            0.12, 0.115, 0.11, 0.10, 0.095, 0.09, 0.085, 0.08, 0.075, 0.07,
            0.065, 0.06, 0.055, 0.05, 0.05, 0.045, 0.04, 0.04, 0.035, 0.035]
inf_hi68 = [0.75, 0.80, 0.60, 0.35, 0.35, 0.38, 0.35, 0.30, 0.28, 0.27,
            0.26, 0.25, 0.24, 0.23, 0.22, 0.21, 0.20, 0.19, 0.18, 0.17,
            0.16, 0.15, 0.14, 0.13, 0.12, 0.11, 0.10, 0.095, 0.09, 0.085,
            0.08, 0.075, 0.07, 0.065, 0.06, 0.055, 0.05, 0.05, 0.045, 0.04]
inf_de = [0.45, 0.55, 0.14, 0.05, 0.12, 0.17, 0.14, 0.10, 0.10, 0.09,
          0.085, 0.08, 0.07, 0.065, 0.06, 0.055, 0.05, 0.048, 0.045, 0.043,
          0.04, 0.038, 0.035, 0.033, 0.03, 0.028, 0.026, 0.024, 0.022, 0.02,
          0.019, 0.018, 0.017, 0.016, 0.015, 0.014, 0.013, 0.012, 0.011, 0.01]
inf_ch = [0.72, 0.58, 0.13, 0.14, 0.15, 0.18, 0.17, 0.17, 0.16, 0.15,
          0.14, 0.135, 0.13, 0.12, 0.11, 0.10, 0.095, 0.09, 0.085, 0.08,
          0.075, 0.07, 0.065, 0.06, 0.055, 0.05, 0.048, 0.045, 0.042, 0.04,
          0.038, 0.035, 0.033, 0.03, 0.028, 0.026, 0.024, 0.022, 0.02, 0.02]
inf_fr = [0.55, 0.45, 0.35, 0.32, 0.35, 0.33, 0.30, 0.27, 0.24, 0.20,
          0.16, 0.13, 0.10, 0.08, 0.07, 0.06, 0.055, 0.05, 0.045, 0.04,
          0.04, 0.035, 0.035, 0.03, 0.03, 0.03, 0.025, 0.025, 0.025, 0.02,
          0.02, 0.02, 0.02, 0.02, 0.015, 0.015, 0.015, 0.015, 0.015, 0.01]
inf_it = [0.75, 0.75, 0.82, 0.82, 0.78, 0.72, 0.66, 0.60, 0.55, 0.50,
          0.45, 0.41, 0.37, 0.34, 0.31, 0.28, 0.26, 0.24, 0.22, 0.20,
          0.18, 0.17, 0.16, 0.15, 0.14, 0.13, 0.12, 0.11, 0.10, 0.09,
          0.085, 0.08, 0.075, 0.07, 0.065, 0.06, 0.055, 0.05, 0.045, 0.04]
inf_uk = [0.32, 0.55, 0.21, 0.27, 0.26, 0.30, 0.28, 0.26, 0.23, 0.21,
          0.19, 0.17, 0.16, 0.14, 0.13, 0.12, 0.11, 0.10, 0.095, 0.09,
          0.085, 0.08, 0.075, 0.07, 0.065, 0.06, 0.055, 0.05, 0.048, 0.045,
          0.042, 0.04, 0.038, 0.035, 0.032, 0.03, 0.028, 0.025, 0.022, 0.02]

# ---- Consumer Sentiment
cs_lo68 = [-0.45, -0.65, -0.85, -1.00, -1.10, -1.05, -0.98, -0.90, -0.82, -0.75,
           -0.68, -0.62, -0.57, -0.53, -0.49, -0.46, -0.43, -0.40, -0.38, -0.36,
           -0.34, -0.32, -0.30, -0.29, -0.28, -0.27, -0.26, -0.25, -0.24, -0.23,
           -0.22, -0.21, -0.20, -0.20, -0.19, -0.18, -0.18, -0.17, -0.17, -0.16]
cs_lo50 = [-0.35, -0.55, -0.72, -0.85, -0.92, -0.91, -0.85, -0.78, -0.71, -0.64,
           -0.58, -0.53, -0.48, -0.44, -0.40, -0.37, -0.34, -0.32, -0.30, -0.28,
           -0.26, -0.24, -0.23, -0.22, -0.20, -0.19, -0.18, -0.17, -0.16, -0.15,
           -0.15, -0.14, -0.13, -0.13, -0.12, -0.12, -0.11, -0.11, -0.10, -0.10]
cs_hi50 = [-0.10, -0.15, -0.22, -0.30, -0.34, -0.34, -0.30, -0.25, -0.20, -0.16,
           -0.12, -0.09, -0.07, -0.05, -0.03, -0.02, -0.01, 0.00, 0.01, 0.01,
           0.02, 0.02, 0.02, 0.03, 0.03, 0.03, 0.03, 0.03, 0.04, 0.04,
           0.04, 0.04, 0.04, 0.04, 0.04, 0.04, 0.04, 0.04, 0.04, 0.04]
cs_hi68 = [-0.05, -0.08, -0.12, -0.18, -0.20, -0.20, -0.17, -0.12, -0.08, -0.05,
           -0.02, 0.00, 0.02, 0.04, 0.06, 0.07, 0.08, 0.08, 0.09, 0.09,
           0.09, 0.10, 0.10, 0.10, 0.10, 0.10, 0.10, 0.10, 0.10, 0.10,
           0.10, 0.10, 0.10, 0.10, 0.10, 0.10, 0.10, 0.10, 0.10, 0.10]
cs_de = [-0.20, -0.38, -0.50, -0.60, -0.63, -0.59, -0.53, -0.47, -0.41, -0.35,
         -0.31, -0.27, -0.24, -0.21, -0.18, -0.16, -0.14, -0.12, -0.11, -0.10,
         -0.09, -0.08, -0.07, -0.06, -0.05, -0.05, -0.04, -0.04, -0.03, -0.03,
         -0.03, -0.02, -0.02, -0.02, -0.02, -0.01, -0.01, -0.01, -0.01, -0.01]
cs_ch = [-0.55, -0.72, -0.68, -0.63, -0.58, -0.52, -0.43, -0.35, -0.28, -0.22,
         -0.17, -0.13, -0.11, -0.09, -0.08, -0.07, -0.06, -0.05, -0.04, -0.035,
         -0.03, -0.025, -0.02, -0.02, -0.015, -0.015, -0.01, -0.01, -0.01, -0.01,
         -0.005, -0.005, -0.005, -0.005, -0.005, 0.0, 0.0, 0.0, 0.0, 0.0]
cs_fr = [-0.30, -0.45, -0.55, -0.60, -0.60, -0.57, -0.52, -0.47, -0.42, -0.37,
         -0.33, -0.29, -0.25, -0.22, -0.20, -0.18, -0.16, -0.14, -0.12, -0.11,
         -0.10, -0.09, -0.08, -0.07, -0.06, -0.06, -0.05, -0.05, -0.04, -0.04,
         -0.03, -0.03, -0.03, -0.02, -0.02, -0.02, -0.02, -0.01, -0.01, -0.01]
cs_it = [-0.35, -0.50, -0.58, -0.60, -0.58, -0.55, -0.50, -0.45, -0.41, -0.37,
         -0.33, -0.30, -0.27, -0.24, -0.22, -0.19, -0.17, -0.15, -0.13, -0.12,
         -0.10, -0.09, -0.08, -0.07, -0.06, -0.05, -0.05, -0.04, -0.04, -0.03,
         -0.03, -0.03, -0.02, -0.02, -0.02, -0.02, -0.01, -0.01, -0.01, -0.01]
cs_uk = [-0.12, -0.15, -0.26, -0.38, -0.45, -0.47, -0.45, -0.39, -0.33, -0.28,
         -0.23, -0.19, -0.15, -0.12, -0.10, -0.08, -0.07, -0.06, -0.05, -0.04,
         -0.035, -0.03, -0.025, -0.02, -0.02, -0.02, -0.015, -0.015, -0.01, -0.01,
         -0.01, -0.01, -0.01, -0.005, -0.005, -0.005, -0.005, 0.0, 0.0, 0.0]

titles = ["log(GPR)", "US Interest Rate", "Global GDP",
          "Global Inflation (qoq)", "Global Consumer Sentiment", "Oil Price",
          "log(local GPR)", "CPI Energy (qoq)", "Interest Rate",
          "GDP", "Inflation (qoq)", "Consumer Sentiment"]
y_limits = [(-0.02, 1.0), (-0.93, 2.07), (-2.36, 1.75),
            (-0.1, 1.28), (-1.2, 0.13), (-15, 47),
            (-0.04, 1.15), (-0.9, 5.45), (-0.63, 2.52),
            (-5.0, 2.16), (-0.16, 1.02), (-1.09, 0.11)]
y_ticks = [[0, 0.5, 1], [0, 1, 2], [-2, -1, 0, 1],
           [0, 0.5, 1], [-1, -0.5, 0], [0, 20, 40],
           [0, 0.5, 1], [0, 2, 4], [0, 1, 2],
           [-4, -2, 0, 2], [0, 0.5, 1], [-1, -0.5, 0]]

panels = [
    (gpr_lo68, gpr_lo50, gpr_hi50, gpr_hi68, gpr_de, gpr_ch, gpr_fr, gpr_it, gpr_uk),
    (usir_lo68, usir_lo50, usir_hi50, usir_hi68, usir_de, usir_ch, usir_fr, usir_it, usir_uk),
    (ggdp_lo68, ggdp_lo50, ggdp_hi50, ggdp_hi68, ggdp_de, ggdp_ch, ggdp_fr, ggdp_it, ggdp_uk),
    (ginf_lo68, ginf_lo50, ginf_hi50, ginf_hi68, ginf_de, ginf_ch, ginf_fr, ginf_it, ginf_uk),
    (gcs_lo68, gcs_lo50, gcs_hi50, gcs_hi68, gcs_de, gcs_ch, gcs_fr, gcs_it, gcs_uk),
    (oil_lo68, oil_lo50, oil_hi50, oil_hi68, oil_de, oil_ch, oil_fr, oil_it, oil_uk),
    (lgpr_lo68, lgpr_lo50, lgpr_hi50, lgpr_hi68, lgpr_de, lgpr_ch, lgpr_fr, lgpr_it, lgpr_uk),
    (cpie_lo68, cpie_lo50, cpie_hi50, cpie_hi68, cpie_de, cpie_ch, cpie_fr, cpie_it, cpie_uk),
    (ir_lo68, ir_lo50, ir_hi50, ir_hi68, ir_de, ir_ch, ir_fr, ir_it, ir_uk),
    (gdp_lo68, gdp_lo50, gdp_hi50, gdp_hi68, gdp_de, gdp_ch, gdp_fr, gdp_it, gdp_uk),
    (inf_lo68, inf_lo50, inf_hi50, inf_hi68, inf_de, inf_ch, inf_fr, inf_it, inf_uk),
    (cs_lo68, cs_lo50, cs_hi50, cs_hi68, cs_de, cs_ch, cs_fr, cs_it, cs_uk),
]

# colours
C68 = "#b7e4f6"
CIQR = "#76ccf0"
BLUE = "#0000ff"
RED = "#ff0000"
AXC = "#262626"

sns.set_style("white")
plt.rcParams["font.family"] = ["Liberation Sans", "DejaVu Sans"]
plt.rcParams["axes.unicode_minus"] = False
plt.rcParams["text.color"] = "black"

W, H = 2117, 970
fig = plt.figure(figsize=(W / 100, H / 100), dpi=100, facecolor="#f0f0f0")

# panel geometry in pixels
col_left = [109, 827, 1546]
row_top = [77, 286, 496, 705]
ax_w, ax_h = 548, 107

fmt = FuncFormatter(lambda v, p: "%g" % v)

for i, (lo68, lo50, hi50, hi68, de, ch, fr, it, uk) in enumerate(panels):
    r, c = divmod(i, 3)
    ax = fig.add_axes([col_left[c] / W, 1 - (row_top[r] + ax_h) / H, ax_w / W, ax_h / H])
    ax.set_facecolor("white")

    ax.fill_between(horizon, lo68, hi68, color=C68, lw=0)
    ax.fill_between(horizon, lo50, hi50, color=CIQR, lw=0)
    ax.axhline(0, color="black", ls=":", lw=1.2)

    sns.lineplot(x=horizon, y=de, ax=ax, color=BLUE, lw=1.4)
    sns.lineplot(x=horizon, y=ch, ax=ax, color=RED, lw=1.2)
    sns.lineplot(x=horizon, y=fr, ax=ax, color=RED, lw=1.3, linestyle=(0, (6, 3)))
    sns.lineplot(x=horizon, y=it, ax=ax, color=RED, lw=1.2, linestyle=(0, (1, 2.5)))
    sns.lineplot(x=horizon, y=uk, ax=ax, color=RED, lw=2.0, marker="o",
                 markersize=5, markeredgewidth=0)

    ax.set_xlim(1, 40)
    ax.set_ylim(*y_limits[i])
    ax.set_xticks([5, 10, 15, 20, 25, 30, 35, 40])
    ax.set_yticks(y_ticks[i])
    ax.yaxis.set_major_formatter(fmt)
    ax.set_xlabel("")
    ax.set_ylabel("")
    ax.tick_params(direction="in", length=5, width=0.8, color=AXC,
                   labelcolor=AXC, labelsize=16.5, pad=4)
    for s in ["top", "right"]:
        ax.spines[s].set_visible(False)
    for s in ["left", "bottom"]:
        ax.spines[s].set_color(AXC)
        ax.spines[s].set_linewidth(0.9)
    ax.set_title(titles[i], fontsize=30, fontweight="bold", color="black", pad=11)

handles = [
    Line2D([], [], color=BLUE, lw=1.5, alpha=0.7),
    Patch(facecolor="#99d8f1", edgecolor="none"),
    Patch(facecolor=C68, edgecolor="none"),
    Line2D([], [], color=RED, lw=1.5, alpha=0.7),
    Line2D([], [], color=RED, lw=1.5, alpha=0.7, linestyle=(0, (3, 2))),
    Line2D([], [], color=RED, lw=1.2, alpha=0.7, linestyle=(0, (1, 1.5))),
    Line2D([], [], color=RED, lw=1.8, alpha=0.7, marker="o", markersize=3),
]
labels = ["DE baseline median", "DE interquartile range", "DE 68% interval",
          "CH median", "FR median", "IT median", "UK median"]
leg = fig.legend(handles, labels, loc="upper left", bbox_to_anchor=(395 / W, 1 - 868 / H),
                 ncol=4, fontsize=26, frameon=True, fancybox=False, framealpha=1,
                 facecolor="white", edgecolor="#555555", handlelength=2.3,
                 handleheight=1.0, handletextpad=0.2, columnspacing=0.55,
                 borderpad=0.3, labelspacing=0.4, borderaxespad=0)
leg.get_frame().set_linewidth(1.0)
for t in leg.get_texts():
    t.set_color("black")

fig.savefig("out.png", dpi=100, facecolor=fig.get_facecolor())
